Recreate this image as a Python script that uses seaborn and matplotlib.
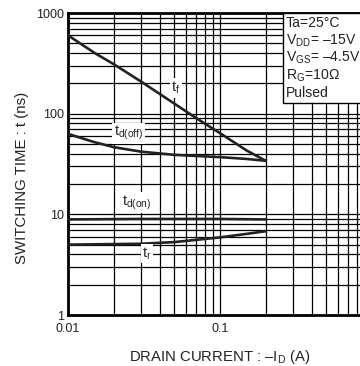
import matplotlib
matplotlib.use("Agg")
import matplotlib.pyplot as plt
import seaborn as sns
import pandas as pd
from matplotlib.patches import Rectangle
from matplotlib.ticker import FixedLocator, FixedFormatter, LogLocator, NullFormatter

# data
tf_x = [0.01, 0.015, 0.02, 0.03, 0.05, 0.07, 0.1, 0.15, 0.2]
tf_y = [600, 400, 310, 210, 126, 90, 64, 43, 34]
tdoff_x = [0.01, 0.015, 0.02, 0.03, 0.05, 0.1, 0.15, 0.2]
tdoff_y = [63, 52, 46.5, 42, 39, 37, 35.5, 34]
tdon_x = [0.01, 0.03, 0.1, 0.2]
tdon_y = [8.9, 9.0, 9.0, 8.9]
tr_x = [0.01, 0.03, 0.05, 0.1, 0.15, 0.2]
tr_y = [5.0, 5.1, 5.3, 5.9, 6.4, 6.8]

xticks = [0.01, 0.1]
xtick_labels = ["0.01", "0.1"]
yticks = [1, 10, 100, 1000]
ytick_labels = ["1", "10", "100", "1000"]

conditions = ["Ta=25°C", r"V$_{\mathregular{DD}}$= –15V", r"V$_{\mathregular{GS}}$= –4.5V",
              r"R$_{\mathregular{G}}$=10Ω", "Pulsed"]

sns.set_style("white")
plt.rcParams["font.family"] = ["Liberation Sans", "DejaVu Sans"]
plt.rcParams["mathtext.fontset"] = "custom"
plt.rcParams["mathtext.rm"] = "Liberation Sans"

fig = plt.figure(figsize=(3.6, 3.66), dpi=100)
W, H = 360, 366
ax = fig.add_axes([68 / W, (H - 315) / H, 304 / W, 302 / H])

for name, xs, ys in [("tf", tf_x, tf_y), ("tdoff", tdoff_x, tdoff_y),
                     ("tdon", tdon_x, tdon_y), ("tr", tr_x, tr_y)]:
    df = pd.DataFrame({"x": xs, "y": ys})
    sns.lineplot(data=df, x="x", y="y", ax=ax, color="#222222", lw=1.9,
                 estimator=None, sort=True, zorder=3)

ax.set_xscale("log")
ax.set_yscale("log")
ax.set_xlim(0.01, 1)
ax.set_ylim(1, 1000)

ax.xaxis.set_major_locator(FixedLocator(xticks))
ax.xaxis.set_major_formatter(FixedFormatter(xtick_labels))
ax.yaxis.set_major_locator(FixedLocator(yticks))
ax.yaxis.set_major_formatter(FixedFormatter(ytick_labels))
ax.xaxis.set_minor_locator(LogLocator(base=10, subs=range(2, 10)))
ax.yaxis.set_minor_locator(LogLocator(base=10, subs=range(2, 10)))
ax.xaxis.set_minor_formatter(NullFormatter())
ax.yaxis.set_minor_formatter(NullFormatter())
ax.tick_params(which="both", length=0, labelsize=9, colors="#222222")
ax.tick_params(axis="x", pad=6)
ax.tick_params(axis="y", pad=3)
ax.grid(which="both", color="black", lw=0.9, zorder=1)
for s in ax.spines.values():
    s.set_linewidth(2)
    s.set_color("black")
ax.set_xlabel("")
ax.set_ylabel("")

fig.text(22 / W, 1 - 178 / H, "SWITCHING TIME : t (ns)", rotation=90,
         ha="center", va="center", fontsize=10.8, color="#222222")
fig.text(220 / W, 1 - 357 / H, r"DRAIN CURRENT : –I$_{\mathregular{D}}$ (A)",
         ha="center", va="center", fontsize=10.7, color="#222222")

box = dict(facecolor="white", edgecolor="none", pad=1)
ax.text(0.051, 180, r"$\mathregular{t_f}$", fontsize=10.5, ha="center", va="center", bbox=box, zorder=4)
ax.text(0.025, 64, r"$\mathregular{t_{d(off)}}$", fontsize=10.5, ha="center", va="center", bbox=box, zorder=4)
ax.text(0.0284, 13, r"$\mathregular{t_{d(on)}}$", fontsize=10.5, ha="center", va="center", bbox=box, zorder=4)
ax.text(0.033, 4.1, r"$\mathregular{t_r}$", fontsize=10.5, ha="center", va="center", bbox=box, zorder=4)

fig.patches.append(Rectangle((283 / W, 1 - 103 / H), 90 / W, 90 / H, transform=fig.transFigure,
                             facecolor="white", edgecolor="black", lw=1, zorder=5))
for i, t in enumerate(conditions):
    fig.text(286 / W, 1 - (23 + i * 17.5) / H, t, ha="left", va="center",
             fontsize=10.1, color="#222222", zorder=6)

fig.savefig("out.png", dpi=100)
